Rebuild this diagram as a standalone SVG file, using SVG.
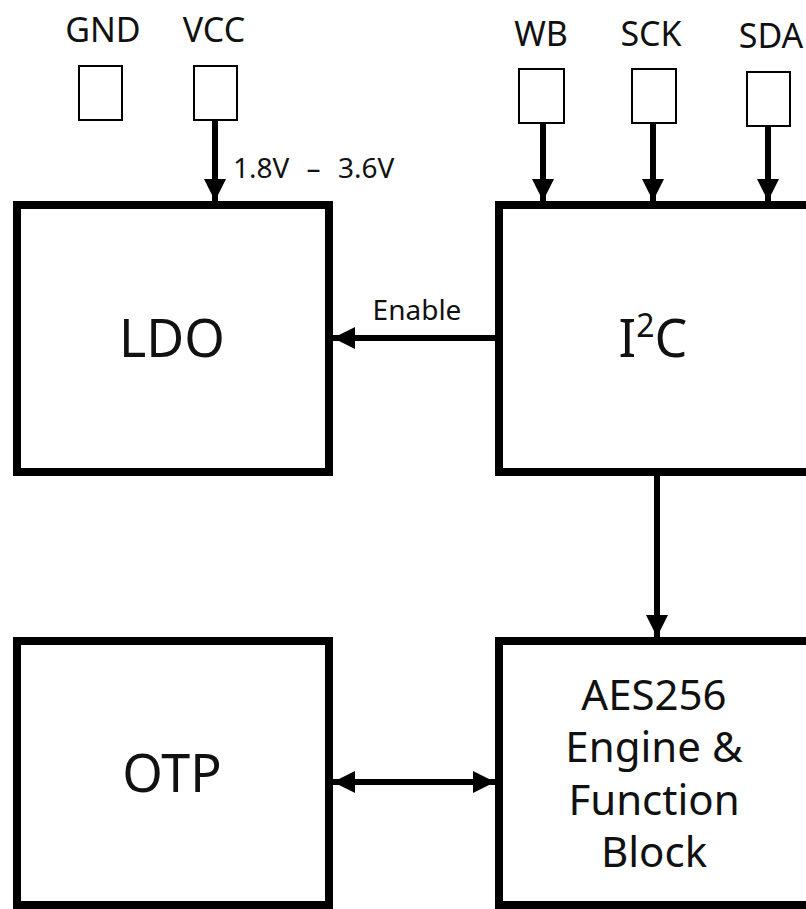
<svg xmlns="http://www.w3.org/2000/svg" width="806" height="909" viewBox="0 0 806 909">
  <style>
    .block { fill: #ffffff; stroke: #000000; stroke-width: 8; }
    .pin { fill: #ffffff; stroke: #000000; stroke-width: 2; }
    .wire { fill: none; stroke: #000000; stroke-width: 6; }
    text { font-family: "Noto Sans", "Open Sans", "Noto Sans CJK KR", sans-serif; fill: #111111; text-anchor: middle; }
    .big { font-size: 52px; }
    .mid { font-size: 42px; }
    .pinlbl { font-size: 34px; }
    .small { font-size: 28px; }
  </style>
  <defs>
    <marker id="arrow" markerUnits="userSpaceOnUse" markerWidth="24" markerHeight="24" viewBox="0 0 24 24" refX="22" refY="12" orient="auto-start-reverse">
      <path d="M0,1 L22,12 L0,23 Z" fill="#000000"/>
    </marker>
  </defs>

  <g id="pin-gnd">
    <text class="pinlbl" x="103" y="42">GND</text>
    <rect class="pin" x="79" y="66" width="43" height="54"/>
  </g>
  <g id="pin-vcc">
    <text class="pinlbl" x="214" y="42">VCC</text>
    <rect class="pin" x="194" y="66" width="43" height="54"/>
  </g>
  <g id="pin-wb">
    <text class="pinlbl" x="541" y="46">WB</text>
    <rect class="pin" x="519" y="69" width="45" height="54"/>
  </g>
  <g id="pin-sck">
    <text class="pinlbl" x="651" y="46">SCK</text>
    <rect class="pin" x="632" y="69" width="44" height="54"/>
  </g>
  <g id="pin-sda">
    <text class="pinlbl" x="771" y="48">SDA</text>
    <rect class="pin" x="747" y="72" width="43" height="54"/>
  </g>

  <g id="ldo">
    <rect class="block" x="17" y="205" width="312" height="267"/>
    <text class="big" x="172" y="357">LDO</text>
  </g>
  <g id="i2c">
    <rect class="block" x="499" y="205" width="340" height="267"/>
    <text class="big" x="653" y="357">I<tspan font-size="32px" dy="-20">2</tspan><tspan dy="20">C</tspan></text>
  </g>
  <g id="otp">
    <rect class="block" x="17" y="641" width="312" height="264"/>
    <text class="big" x="172" y="792">OTP</text>
  </g>
  <g id="aes">
    <rect class="block" x="499" y="641" width="340" height="264"/>
    <text class="mid" x="654" y="710">AES256</text>
    <text class="mid" x="654" y="762">Engine &amp;</text>
    <text class="mid" x="654" y="815">Function</text>
    <text class="mid" x="654" y="867">Block</text>
  </g>

  <g id="connectors">
    <line class="wire" x1="215" y1="121" x2="215" y2="201" marker-end="url(#arrow)"/>
    <text class="small" x="233" y="178" style="text-anchor:start; word-spacing:10px">1.8V – 3.6V</text>
    <line class="wire" x1="543" y1="123" x2="543" y2="201" marker-end="url(#arrow)"/>
    <line class="wire" x1="653" y1="123" x2="653" y2="201" marker-end="url(#arrow)"/>
    <line class="wire" x1="768" y1="126" x2="768" y2="201" marker-end="url(#arrow)"/>
    <line class="wire" x1="495" y1="338" x2="333" y2="338" marker-end="url(#arrow)"/>
    <text class="small" x="417" y="320">Enable</text>
    <line class="wire" x1="657" y1="476" x2="657" y2="637" marker-end="url(#arrow)"/>
    <line class="wire" x1="333" y1="782" x2="495" y2="782" marker-start="url(#arrow)" marker-end="url(#arrow)"/>
  </g>
</svg>
